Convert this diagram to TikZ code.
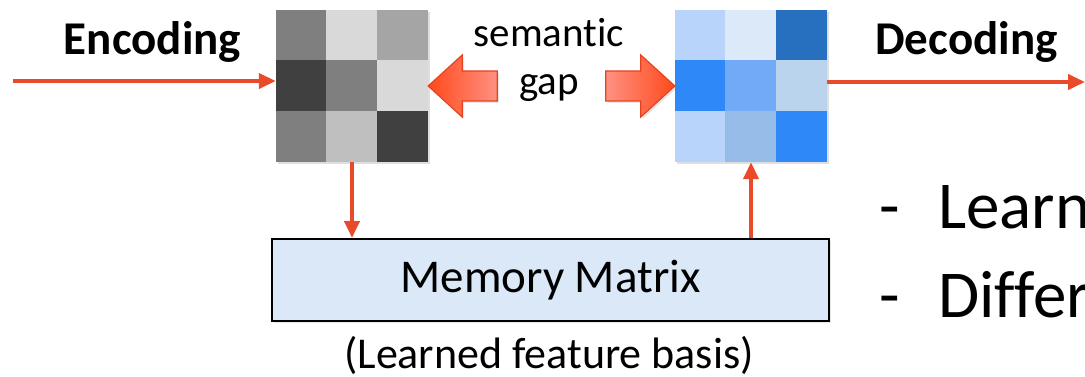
\documentclass[tikz,border=0pt]{standalone}
\usepackage{fontspec}
\setmainfont{Carlito}[Ligatures=NoCommon]
\usetikzlibrary{arrows.meta,shadows,calc}
\definecolor{redline}{HTML}{E84A2A}
\definecolor{arrowedge}{HTML}{E4441F}
\definecolor{arrowhot}{HTML}{FF4A1C}
\definecolor{arrowsoft}{HTML}{FF9182}
\definecolor{memfill}{HTML}{DBE8F8}
\definecolor{gA}{HTML}{7F7F7F}
\definecolor{gB}{HTML}{D9D9D9}
\definecolor{gC}{HTML}{A5A5A5}
\definecolor{gD}{HTML}{404040}
\definecolor{gE}{HTML}{BFBFBF}
\definecolor{bA}{HTML}{B8D4FB}
\definecolor{bB}{HTML}{DCE9F9}
\definecolor{bC}{HTML}{276FBF}
\definecolor{bD}{HTML}{2E88F7}
\definecolor{bE}{HTML}{72AAF8}
\definecolor{bF}{HTML}{BAD4EE}
\definecolor{bG}{HTML}{96BCE8}
\tikzset{
  gridbox/.style={minimum width=152pt,minimum height=152pt,inner sep=0pt,fill=white,
    drop shadow={opacity=0.25,shadow xshift=2pt,shadow yshift=-2pt}},
  redarrow/.style={draw=redline,line width=4pt,-{Triangle[length=17pt,width=15pt]}},
  blockarrow/.style={draw=arrowedge,line width=1.2pt,line join=miter,
    drop shadow={opacity=0.2,shadow xshift=2pt,shadow yshift=-2pt}},
  membox/.style={draw=black,line width=2pt,fill=memfill,minimum width=557pt,minimum height=82pt,
    inner sep=0pt,font=\fontsize{47}{50}\selectfont,
    drop shadow={opacity=0.2,shadow xshift=2pt,shadow yshift=-2pt}},
  lbl/.style={inner sep=0pt,anchor=base,font=\fontsize{41}{44}\selectfont},
  head/.style={inner sep=0pt,anchor=base,font=\bfseries\fontsize{47}{50}\selectfont},
  bigtxt/.style={inner sep=0pt,anchor=base west,font=\fontsize{67}{70}\selectfont}
}
\begin{document}
\begin{tikzpicture}[x=1pt,y=-1pt]
\useasboundingbox (0,0) rectangle (1085,377);
% grey grid
\node[gridbox] (enc) at (352,86) {};
\foreach \c [count=\i from 0] in {gA,gB,gC,gD,gA,gB,gA,gE,gD}{
  \pgfmathtruncatemacro{\col}{mod(\i,3)}
  \pgfmathtruncatemacro{\row}{div(\i,3)}
  \fill[\c] ($(enc.north west)+(\col*152/3,\row*152/3)$) rectangle ++(152/3,152/3);
}
% blue grid
\node[gridbox] (dec) at (751,86) {};
\foreach \c [count=\i from 0] in {bA,bB,bC,bD,bE,bF,bA,bG,bD}{
  \pgfmathtruncatemacro{\col}{mod(\i,3)}
  \pgfmathtruncatemacro{\row}{div(\i,3)}
  \fill[\c] ($(dec.north west)+(\col*152/3,\row*152/3)$) rectangle ++(152/3,152/3);
}
% labels
\node[head] (enclbl) at (152.5,55) {Encoding};
\node[head] (declbl) at (966.5,55) {Decoding};
\node[lbl] (sem) at (549,47) {semantic};
\node[lbl] (gap) at (549,95) {gap};
% in / out arrows
\coordinate (instart) at (13,81);
\coordinate (outend) at (1085,82);
\draw[redarrow] (instart) -- (instart -| enc.west);
\draw[redarrow] (outend -| dec.east) -- (outend);
% block arrows (semantic gap)
\path[blockarrow,left color=arrowhot,right color=arrowsoft]
  (enc.east) -- ++(34,-31) -- ++(0,16) -- ++(35,0) -- ++(0,30) -- ++(-35,0) -- ++(0,16) -- cycle;
\path[blockarrow,left color=arrowsoft,right color=arrowhot]
  (dec.west) -- ++(-34,-31) -- ++(0,16) -- ++(-35,0) -- ++(0,30) -- ++(35,0) -- ++(0,16) -- cycle;
% memory
\node[membox] (mem) at (550.5,280) {Memory Matrix};
\node[lbl,font=\fontsize{44}{47}\selectfont] (cap) at (549,368) {(Learned feature basis)};
\draw[redarrow] (enc.south) -- (enc.south |- mem.north);
\draw[redarrow] (dec.south |- mem.north) -- (dec.south);
% right text
\node[bigtxt] (d1) at (879,228) {-};
\node[bigtxt] (t1) at (938,228) {Learn};
\node[bigtxt] (d2) at (879,317) {-};
\node[bigtxt] (t2) at (938,317) {Differ};
\end{tikzpicture}
\end{document}
